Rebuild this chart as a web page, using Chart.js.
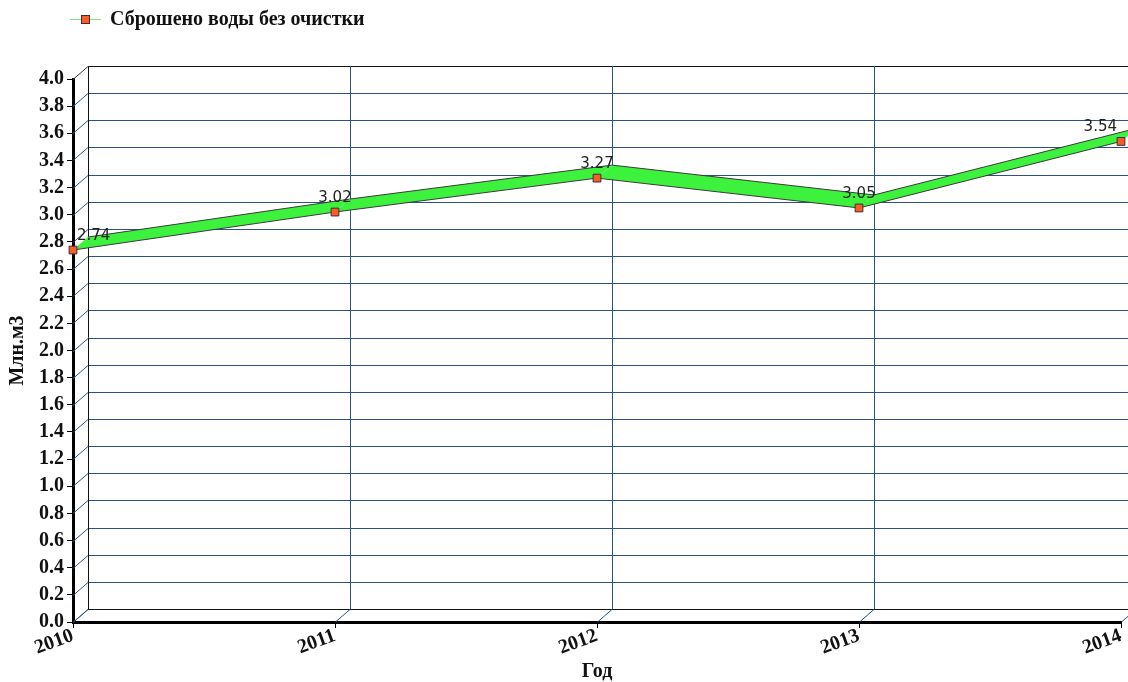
<!DOCTYPE html>
<html>
<head>
<meta charset="utf-8">
<script src="https://cdn.jsdelivr.net/npm/chart.js@4"></script>
<style>
  html, body { margin: 0; padding: 0; background: #fff; }
  #wrap { width: 1128px; height: 682px; }
</style>
</head>
<body>
<div id="wrap"><canvas id="chart" width="1128" height="682"></canvas></div>
<script>
// Data
const years = ['2010', '2011', '2012', '2013', '2014'];
const discharged = [2.74, 3.02, 3.27, 3.05, 3.54];
const seriesName = 'Сброшено воды без очистки';
const yTitle = 'Млн.м3';
const xTitle = 'Год';

// depth of the pseudo-3D box
const DX = 15, DY = -13;
const gridColor = '#2c5283';
const ribbonColor = '#3df23d';
const markerColor = '#ff5a26';
const serif = '"Liberation Serif", "DejaVu Serif", serif';

const wallPlugin = {
  id: 'wall',
  beforeDatasetsDraw(chart) {
    const ctx = chart.ctx;
    const xs = chart.scales.x, ys = chart.scales.y;
    const a = chart.chartArea;
    ctx.save();
    ctx.lineWidth = 1;
    // horizontal grid on back wall + diagonals on left wall
    ys.ticks.forEach((t, i) => {
      const y = Math.round(ys.getPixelForValue(t.value)) + 0.5;
      const top = i === ys.ticks.length - 1;
      const bottom = i === 0;
      ctx.strokeStyle = (top || bottom) ? '#111' : gridColor;
      ctx.beginPath();
      ctx.moveTo(a.left + DX, y + DY);
      ctx.lineTo(chart.width, y + DY);
      ctx.stroke();
      ctx.strokeStyle = top ? '#333' : gridColor;
      ctx.beginPath();
      ctx.moveTo(a.left, y);
      ctx.lineTo(a.left + DX, y + DY);
      ctx.stroke();
    });
    // vertical grid on back wall + diagonals on floor
    years.forEach((yr, i) => {
      const x = Math.round(xs.getPixelForValue(i)) + 0.5;
      ctx.strokeStyle = gridColor;
      if (i > 0) {
        ctx.beginPath();
        ctx.moveTo(x + DX, a.top + DY);
        ctx.lineTo(x + DX, a.bottom + DY);
        ctx.stroke();
      }
      ctx.beginPath();
      ctx.moveTo(x, a.bottom);
      ctx.lineTo(x + DX, a.bottom + DY);
      ctx.stroke();
    });
    // back-left edge of the wall
    ctx.strokeStyle = '#111';
    ctx.beginPath();
    ctx.moveTo(a.left + DX + 0.5, a.top + DY);
    ctx.lineTo(a.left + DX + 0.5, a.bottom + DY);
    ctx.stroke();

    // ribbon
    const pts = chart.getDatasetMeta(0).data;
    for (let i = 0; i < pts.length - 1; i++) {
      const p = pts[i], q = pts[i + 1];
      ctx.beginPath();
      ctx.moveTo(p.x, p.y);
      ctx.lineTo(q.x, q.y);
      ctx.lineTo(q.x + DX, q.y + DY);
      ctx.lineTo(p.x + DX, p.y + DY);
      ctx.closePath();
      ctx.fillStyle = ribbonColor;
      ctx.fill();
      ctx.strokeStyle = '#3a3a3a';
      ctx.beginPath();
      ctx.moveTo(p.x, p.y);
      ctx.lineTo(q.x, q.y);
      ctx.moveTo(p.x + DX, p.y + DY);
      ctx.lineTo(q.x + DX, q.y + DY);
      ctx.stroke();
    }
    ctx.restore();
  },
  afterDatasetsDraw(chart) {
    const ctx = chart.ctx;
    const a = chart.chartArea;
    const pts = chart.getDatasetMeta(0).data;
    ctx.save();
    // value labels
    ctx.font = '15px "DejaVu Sans", sans-serif';
    ctx.fillStyle = '#222';
    ctx.textAlign = 'center';
    ctx.textBaseline = 'middle';
    pts.forEach((p, i) => {
      const txt = discharged[i].toFixed(2);
      const w = ctx.measureText(txt).width;
      let cx = p.x;
      cx = Math.max(cx, a.left + 4 + w / 2);
      cx = Math.min(cx, a.right - 4 - w / 2);
      ctx.fillText(txt, cx, p.y + DY - 1);
    });
    // legend
    ctx.strokeStyle = '#7ee87e';
    ctx.lineWidth = 1;
    ctx.beginPath();
    ctx.moveTo(70, 19.5);
    ctx.lineTo(101, 19.5);
    ctx.stroke();
    ctx.fillStyle = markerColor;
    ctx.fillRect(81, 15, 9, 9);
    ctx.strokeStyle = '#333';
    ctx.strokeRect(81.5, 15.5, 8, 8);
    ctx.font = 'bold 20px ' + serif;
    ctx.fillStyle = '#111';
    ctx.textAlign = 'left';
    ctx.fillText(seriesName, 110, 20);
    // axis titles
    ctx.font = 'bold 20px ' + serif;
    ctx.textAlign = 'center';
    ctx.fillText(xTitle, (a.left + a.right) / 2, 672);
    ctx.translate(18, (a.top + a.bottom) / 2);
    ctx.rotate(-Math.PI / 2);
    ctx.fillText(yTitle, 0, 0);
    ctx.restore();
  }
};

new Chart(document.getElementById('chart'), {
  type: 'line',
  data: {
    labels: years,
    datasets: [{
      label: seriesName,
      data: discharged,
      showLine: false,
      pointStyle: 'rect',
      pointRadius: 5.5,
      pointHoverRadius: 5.5,
      pointBackgroundColor: markerColor,
      pointBorderColor: '#333',
      pointBorderWidth: 1,
      clip: false
    }]
  },
  options: {
    responsive: false,
    animation: false,
    layout: { padding: { left: 0, right: 7, top: 79, bottom: 0 } },
    plugins: {
      legend: { display: false },
      tooltip: { enabled: false }
    },
    scales: {
      x: {
        offset: false,
        afterFit: s => { s.height = 60; },
        grid: { display: true, drawOnChartArea: false, drawTicks: true, tickLength: 6, color: '#000' },
        border: { display: true, color: '#000', width: 3 },
        ticks: {
          minRotation: 20, maxRotation: 20, padding: -4,
          color: '#111',
          font: { family: serif, size: 20, weight: 'bold' }
        }
      },
      y: {
        min: 0, max: 4,
        afterFit: s => { s.width = 73; },
        grid: { display: true, drawOnChartArea: false, drawTicks: true, tickLength: 6, color: '#000' },
        border: { display: true, color: '#000', width: 3 },
        ticks: {
          stepSize: 0.2, padding: 3,
          color: '#111',
          font: { family: serif, size: 20, weight: 'bold' },
          callback: v => v.toFixed(1)
        }
      }
    }
  },
  plugins: [wallPlugin]
});
</script>
</body>
</html>
